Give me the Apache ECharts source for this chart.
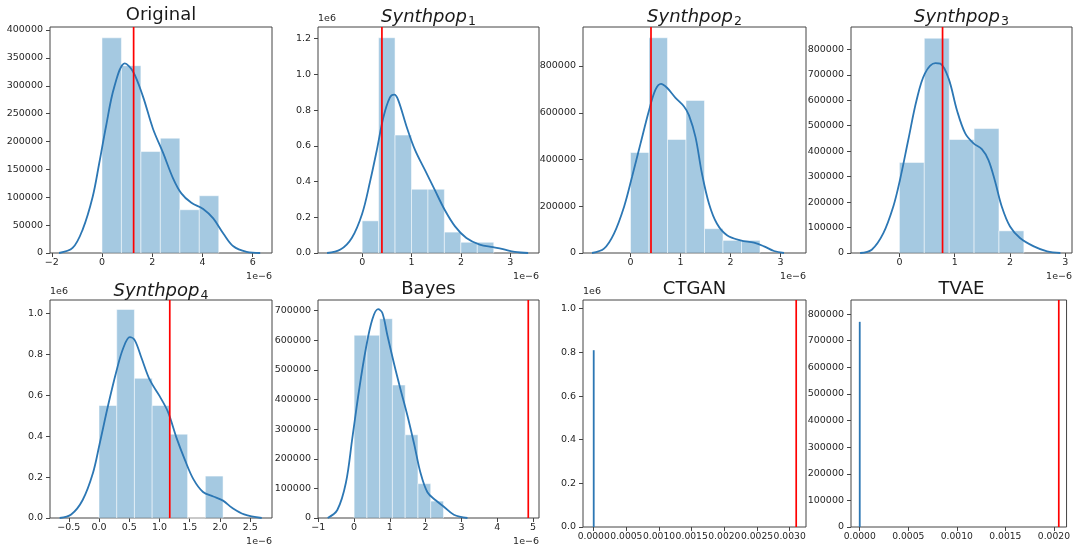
<!DOCTYPE html>
<html>
<head>
<meta charset="utf-8">
<script src="https://cdn.jsdelivr.net/npm/echarts@6/dist/echarts.min.js"></script>
<style>
  html, body { margin: 0; padding: 0; background: #fff; }
  #chart { width: 1073px; height: 547px; }
</style>
</head>
<body>
<div id="chart"></div>
<script>
// titles of the 8 panels ({i|..}{s|..} = italic name with subscript)
var titles = ['Original', '{i|Synthpop}{s|1}', '{i|Synthpop}{s|2}', '{i|Synthpop}{s|3}',
              '{i|Synthpop}{s|4}', 'Bayes', 'CTGAN', 'TVAE'];

// x values of the first six panels are in units of 1e-6
var origEdges = [0, 0.775, 1.55, 2.325, 3.1, 3.875, 4.65];
var origHeights = [386000, 336000, 182000, 206000, 77600, 102700];
var origKdeX = [-1.71, -1.17, -0.77, -0.37, -0.11, 0.16, 0.49, 0.91, 1.23, 1.63, 2.03, 2.43, 2.83, 3.16, 3.56, 4.03, 4.43, 4.83, 5.23, 5.76, 6.3];
var origKdeY = [0, 9000, 42000, 101000, 161000, 227000, 298000, 340000, 326000, 281000, 223000, 180000, 134000, 107000, 90000, 79000, 62000, 35000, 12000, 2000, 0];

var sp1Edges = [0, 0.333, 0.666, 0.999, 1.332, 1.665, 1.998, 2.331, 2.664];
var sp1Heights = [180000, 1205000, 660000, 357000, 357000, 117000, 60000, 60000];
var sp1KdeX = [-0.71, -0.44, -0.21, 0.0, 0.16, 0.30, 0.43, 0.56, 0.65, 0.73, 0.90, 1.07, 1.27, 1.47, 1.67, 1.88, 2.11, 2.38, 2.65, 2.85, 3.09, 3.36];
var sp1KdeY = [0, 19000, 84000, 220000, 400000, 580000, 760000, 870000, 886000, 856000, 707000, 577000, 465000, 353000, 242000, 149000, 84000, 47000, 33000, 22000, 6000, 0];

var sp2Edges = [0, 0.37, 0.74, 1.11, 1.48, 1.85, 2.22, 2.59];
var sp2Heights = [430000, 921000, 486000, 653000, 104000, 54000, 54000];
var sp2KdeX = [-0.77, -0.53, -0.33, -0.13, 0.03, 0.2, 0.37, 0.5, 0.61, 0.73, 0.9, 1.07, 1.17, 1.3, 1.43, 1.57, 1.73, 1.93, 2.2, 2.47, 2.67, 2.87, 3.07];
var sp2KdeY = [0, 18500, 83000, 197000, 325000, 468000, 610000, 699000, 724000, 707000, 664000, 627000, 589000, 496000, 339000, 211000, 125000, 76000, 54000, 44000, 28500, 8500, 0];

var sp3Edges = [0, 0.45, 0.9, 1.35, 1.8, 2.25];
var sp3Heights = [356000, 844000, 446000, 489000, 87000];
var sp3KdeX = [-0.71, -0.5, -0.29, -0.11, 0.01, 0.16, 0.31, 0.46, 0.65, 0.74, 0.89, 1.04, 1.19, 1.34, 1.49, 1.61, 1.73, 1.85, 2.0, 2.18, 2.43, 2.67, 2.91];
var sp3KdeY = [0, 13000, 78000, 183000, 287000, 444000, 600000, 705000, 746000, 744000, 685000, 561000, 470000, 431000, 408000, 365000, 281000, 183000, 104000, 59000, 26000, 6500, 0];

var sp4Edges = [0, 0.293, 0.586, 0.879, 1.172, 1.465, 1.758, 2.051];
var sp4Heights = [550000, 1020000, 683000, 550000, 410000, 0, 205000];
var sp4KdeX = [-0.65, -0.46, -0.27, -0.1, 0.01, 0.15, 0.29, 0.4, 0.51, 0.59, 0.7, 0.84, 1.0, 1.14, 1.28, 1.42, 1.56, 1.72, 1.89, 2.05, 2.2, 2.4, 2.69];
var sp4KdeY = [0, 17000, 88000, 220000, 362000, 550000, 720000, 830000, 884000, 870000, 785000, 675000, 597000, 519000, 393000, 284000, 190000, 127000, 105000, 85000, 50000, 18000, 0];

var bayesEdges = [0, 0.357, 0.714, 1.071, 1.428, 1.785, 2.142, 2.5];
var bayesHeights = [617000, 617000, 673000, 449000, 281000, 116000, 57000];
var bayesKdeX = [-0.74, -0.47, -0.23, -0.05, 0.14, 0.33, 0.51, 0.67, 0.79, 0.93, 1.12, 1.3, 1.49, 1.68, 1.86, 2.05, 2.28, 2.51, 2.79, 3.17];
var bayesKdeY = [0, 27000, 119000, 270000, 433000, 573000, 671000, 705000, 692000, 617000, 519000, 433000, 346000, 249000, 151000, 87000, 60000, 38000, 11000, 0];

// CTGAN and TVAE: x in plain units, a single spike at zero
var ctganKdeX = [0, 0];
var ctganKdeY = [0, 810000];
var tvaeKdeX = [0, 0];
var tvaeKdeY = [0, 771000];

// red vertical reference lines
var redLines = [1.26, 0.40, 0.41, 0.78, 1.17, 4.87, 0.0031, 0.00205];

// axis limits and tick values
var xLimits = [[-2.07, 6.77], [-0.894, 3.58], [-0.95, 3.51], [-0.875, 3.12],
               [-0.81, 2.86], [-1.01, 5.17], [-0.000164, 0.00325], [-0.00009, 0.00213]];
var yMax = [405400, 1265000, 967000, 888000, 1066000, 736000, 1040000, 853000];
var xTicks = [
  [-2, 0, 2, 4, 6], [0, 1, 2, 3], [0, 1, 2, 3], [0, 1, 2, 3],
  [-0.5, 0, 0.5, 1, 1.5, 2, 2.5], [-1, 0, 1, 2, 3, 4, 5],
  [0, 0.0005, 0.001, 0.0015, 0.002, 0.0025, 0.003],
  [0, 0.0005, 0.001, 0.0015, 0.002]
];
var yTicks = [
  [0, 50000, 100000, 150000, 200000, 250000, 300000, 350000, 400000],
  [0, 200000, 400000, 600000, 800000, 1000000, 1200000],
  [0, 200000, 400000, 600000, 800000],
  [0, 100000, 200000, 300000, 400000, 500000, 600000, 700000, 800000],
  [0, 200000, 400000, 600000, 800000, 1000000],
  [0, 100000, 200000, 300000, 400000, 500000, 600000, 700000],
  [0, 200000, 400000, 600000, 800000, 1000000],
  [0, 100000, 200000, 300000, 400000, 500000, 600000, 700000, 800000]
];

var panels = [
  { edges: origEdges, heights: origHeights, kx: origKdeX, ky: origKdeY },
  { edges: sp1Edges, heights: sp1Heights, kx: sp1KdeX, ky: sp1KdeY },
  { edges: sp2Edges, heights: sp2Heights, kx: sp2KdeX, ky: sp2KdeY },
  { edges: sp3Edges, heights: sp3Heights, kx: sp3KdeX, ky: sp3KdeY },
  { edges: sp4Edges, heights: sp4Heights, kx: sp4KdeX, ky: sp4KdeY },
  { edges: bayesEdges, heights: bayesHeights, kx: bayesKdeX, ky: bayesKdeY },
  { edges: [], heights: [], kx: ctganKdeX, ky: ctganKdeY },
  { edges: [], heights: [], kx: tvaeKdeX, ky: tvaeKdeY }
];

var colLeft = [50, 318, 583, 851];
var colWidth = [222, 221, 223, 221];
var rowTop = [27, 300];
var rowHeight = [226, 227];
var font = 'DejaVu Sans';
var textColor = '#262626';
var sciY = [1, 4, 6];        // panels with the "1e6" y offset
var sciX = [0, 1, 2, 3, 4, 5]; // panels with the "1e-6" x offset

function minus(s) { return s.replace('-', '\u2212'); }

function fmtX(i, v) {
  if (i === 4) return minus(v.toFixed(1));
  if (i >= 6) return minus(v.toFixed(4));
  return minus(String(v));
}
function fmtY(i, v) {
  if (sciY.indexOf(i) >= 0) return (v / 1e6).toFixed(1);
  return String(v);
}

function renderHist(params, api) {
  var top = api.coord([api.value(0), api.value(2)]);
  var bot = api.coord([api.value(1), 0]);
  return {
    type: 'rect',
    shape: { x: top[0], y: top[1], width: bot[0] - top[0], height: bot[1] - top[1] },
    style: { fill: 'rgba(31,119,180,0.4)', stroke: 'rgba(255,255,255,0.5)', lineWidth: 1 }
  };
}

var grids = [], xAxes = [], yAxes = [], series = [], titleList = [];

for (var i = 0; i < 8; i++) {
  var c = i % 4, r = Math.floor(i / 4);
  grids.push({
    left: colLeft[c], top: rowTop[r], width: colWidth[c], height: rowHeight[r],
    show: true, borderColor: '#444', borderWidth: 1, backgroundColor: 'transparent'
  });
  titleList.push({
    text: titles[i],
    left: colLeft[c] + colWidth[c] / 2,
    top: r === 0 ? 6 : 280,
    textAlign: 'center',
    padding: 0,
    textStyle: {
      fontSize: 18, fontWeight: 'normal', color: '#1a1a1a', fontFamily: font,
      rich: {
        i: { fontSize: 18, fontStyle: 'italic', fontFamily: font, color: '#1a1a1a' },
        s: { fontSize: 12.5, fontFamily: font, color: '#1a1a1a', padding: [9, 0, 0, 1] }
      }
    }
  });
  (function (idx) {
    xAxes.push({
      type: 'value', gridIndex: idx,
      min: xLimits[idx][0], max: xLimits[idx][1],
      splitLine: { show: false },
      axisLine: { show: false, onZero: false },
      axisTick: { show: true, length: 4, lineStyle: { color: '#444' }, customValues: xTicks[idx] },
      axisLabel: {
        customValues: xTicks[idx], fontSize: idx >= 6 ? 9.2 : 9.5, color: textColor, fontFamily: font, margin: 5,
        showMinLabel: true, showMaxLabel: true, hideOverlap: false,
        formatter: function (v) { return fmtX(idx, v); }
      },
      name: sciX.indexOf(idx) >= 0 ? '1e\u22126' : '',
      nameLocation: 'end', nameGap: 0,
      nameTextStyle: { fontSize: 9.5, color: textColor, fontFamily: font, align: 'right', verticalAlign: 'top', padding: [19, 0, 0, 0] }
    });
    yAxes.push({
      type: 'value', gridIndex: idx,
      min: 0, max: yMax[idx],
      splitLine: { show: false },
      axisLine: { show: false, onZero: false },
      axisTick: { show: true, length: 4, lineStyle: { color: '#444' }, customValues: yTicks[idx] },
      axisLabel: {
        customValues: yTicks[idx], fontSize: 9.5, color: textColor, fontFamily: font, margin: 7,
        showMinLabel: true, showMaxLabel: true, hideOverlap: false,
        formatter: function (v) { return fmtY(idx, v); }
      },
      name: sciY.indexOf(idx) >= 0 ? '1e6' : '',
      nameLocation: 'end', nameGap: 3,
      nameTextStyle: { fontSize: 9.5, color: textColor, fontFamily: font, align: 'left', verticalAlign: 'bottom' }
    });
  })(i);

  var p = panels[i];
  if (p.heights.length) {
    series.push({
      type: 'custom', xAxisIndex: i, yAxisIndex: i,
      renderItem: renderHist,
      encode: { x: [0, 1], y: 2 },
      data: p.heights.map(function (h, k) { return [p.edges[k], p.edges[k + 1], h]; }),
      z: 1, silent: true
    });
  }
  series.push({
    type: 'line', xAxisIndex: i, yAxisIndex: i,
    data: p.kx.map(function (x, k) { return [x, p.ky[k]]; }),
    smooth: i < 6 ? 0.35 : false,
    showSymbol: false, symbol: 'none',
    lineStyle: { color: '#2c77b4', width: 1.8 },
    z: 3, silent: true
  });
  // red reference line spanning the full y range
  series.push({
    type: 'line', xAxisIndex: i, yAxisIndex: i,
    data: [[redLines[i], 0], [redLines[i], yMax[i]]],
    showSymbol: false, symbol: 'none',
    lineStyle: { color: '#ff0000', width: 1.7 },
    z: 4, silent: true
  });
}

var chart = echarts.init(document.getElementById('chart'));
chart.setOption({
  animation: false,
  title: titleList,
  grid: grids,
  xAxis: xAxes,
  yAxis: yAxes,
  series: series
});
</script>
</body>
</html>
